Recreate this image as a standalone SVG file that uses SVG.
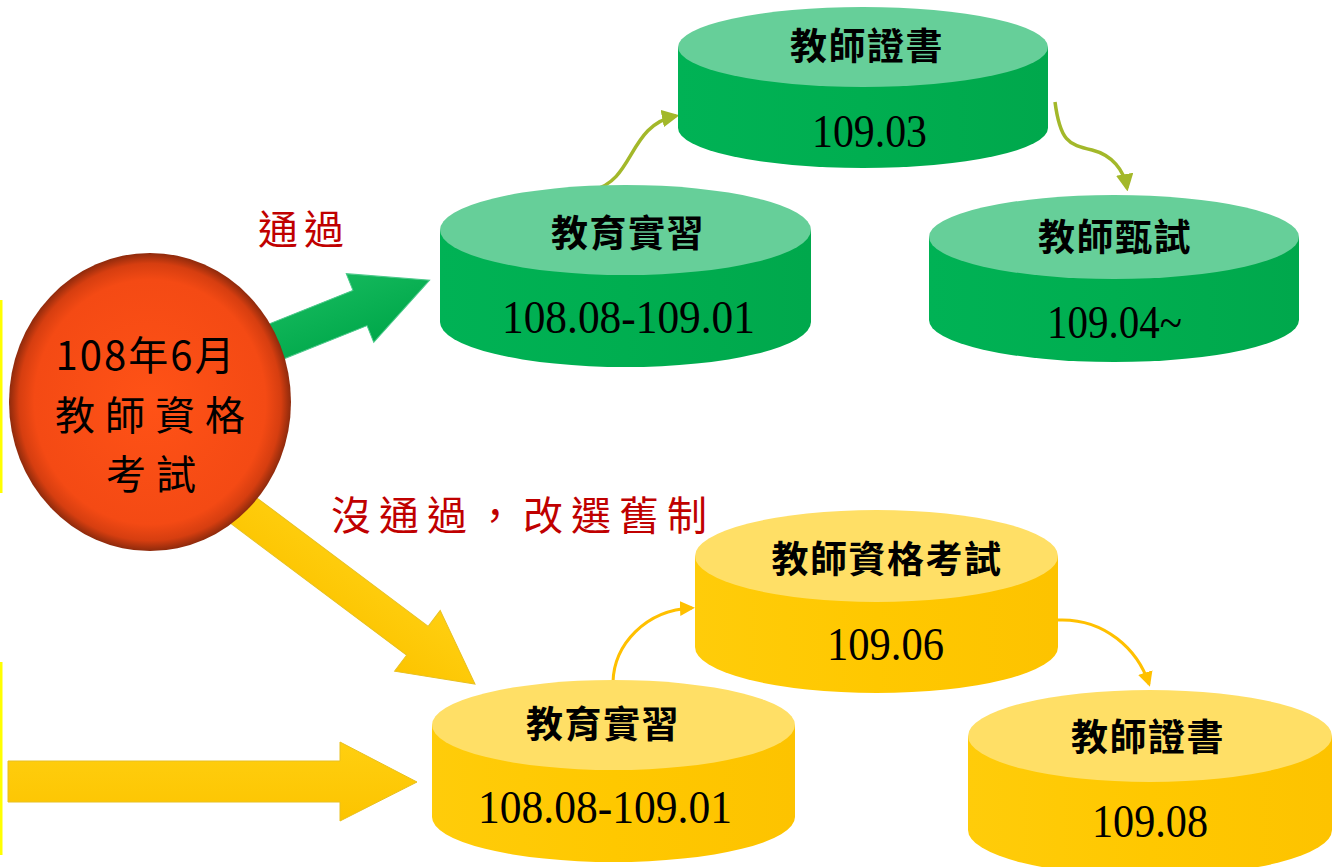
<svg xmlns="http://www.w3.org/2000/svg" width="1333" height="867" viewBox="0 0 1333 867">
<defs>
<linearGradient id="gSide" x1="0" y1="0" x2="1" y2="0">
<stop offset="0" stop-color="#00B255"/><stop offset="0.5" stop-color="#00AE50"/><stop offset="1" stop-color="#00A84C"/>
</linearGradient>
<linearGradient id="ySide" x1="0" y1="0" x2="1" y2="0">
<stop offset="0" stop-color="#FFCC0A"/><stop offset="0.5" stop-color="#FFC800"/><stop offset="1" stop-color="#FDC300"/>
</linearGradient>
<radialGradient id="redBall" cx="0.5" cy="0.5" r="0.5">
<stop offset="0" stop-color="#FF5216"/><stop offset="0.82" stop-color="#F44A14"/><stop offset="0.93" stop-color="#D63E10"/><stop offset="1" stop-color="#8E2A0C"/>
</radialGradient>
<linearGradient id="gArrow" x1="0" y1="0" x2="0" y2="1">
<stop offset="0" stop-color="#14B85C"/><stop offset="1" stop-color="#00A84A"/>
</linearGradient>
<linearGradient id="yArrow" x1="0" y1="0" x2="0" y2="1">
<stop offset="0" stop-color="#FFCF10"/><stop offset="1" stop-color="#FCC400"/>
</linearGradient>
<marker id="mG" viewBox="0 0 10 10" refX="8" refY="5" markerWidth="5" markerHeight="5" orient="auto" markerUnits="strokeWidth">
<path d="M0,0 L10,5 L0,10 Z" fill="#A3B82A"/>
</marker>
<marker id="mY" viewBox="0 0 10 10" refX="8" refY="5" markerWidth="5" markerHeight="5" orient="auto" markerUnits="strokeWidth">
<path d="M0,0 L10,5 L0,10 Z" fill="#FFC000"/>
</marker>
</defs>
<style>
.gtop{fill:#66CF99}
.gside{fill:url(#gSide)}
.ytop{fill:#FFDF66}
.yside{fill:url(#ySide)}
.lbl{font-family:"Noto Sans CJK TC","Noto Sans CJK SC",sans-serif;font-weight:bold;font-size:37px;fill:#000;letter-spacing:1.5px}
.num{font-family:"Liberation Serif","Noto Sans CJK TC",serif;font-size:46px;fill:#000}
.red{font-family:"Noto Sans CJK TC",sans-serif;font-size:40px;fill:#C00000}
.ball{font-family:"Noto Sans CJK TC",sans-serif;font-size:40px;fill:#000}
.gc{fill:none;stroke:#A3B82A;stroke-width:3.5;marker-end:url(#mG)}
.yc{fill:none;stroke:#FFC000;stroke-width:3;marker-end:url(#mY)}
</style>
<rect width="1333" height="867" fill="#FFFFFF"/>

<g id="edge-marks">
<rect x="0" y="300" width="2.5" height="193" fill="#FFFF00"/>
<rect x="0" y="662" width="2.5" height="193" fill="#FFFF00"/>
</g>

<g id="connectors">
<polygon fill="url(#gArrow)" stroke="#4CC98A" stroke-width="1" transform="translate(230,360) rotate(-21.8)" points="0,-19 140,-19 140,-37 215,0 140,37 140,19 0,19"/>
<polygon fill="url(#yArrow)" stroke="#E8C020" stroke-width="1" transform="translate(203,480) rotate(36.87)" points="0,-18 268,-18 268,-38 340,0 268,38 268,18 0,18"/>
<polygon fill="url(#yArrow)" stroke="#E8C020" stroke-width="1" points="8,761 340,761 340,742 417,782 340,821 340,802 8,802"/>
<path class="gc" d="M593,190 C635,180 628,125 676,116"/>
<path class="gc" d="M1055,102 C1060,140 1068,145 1092,150 C1112,155 1124,170 1127,188"/>
<path class="yc" d="M613,682 C614,645 645,610 692,608"/>
<path class="yc" d="M1058,620 C1105,618 1138,650 1149,684"/>
</g>

<g id="exam-2019">
<ellipse cx="150" cy="402" rx="141" ry="149" fill="url(#redBall)"/>
<text class="ball" x="146" y="370" text-anchor="middle" font-family="Liberation Serif, Noto Sans CJK TC, serif" font-size="42" letter-spacing="2">108年6月</text>
<text class="ball" x="155" y="430" text-anchor="middle" letter-spacing="10">教師資格</text>
<text class="ball" x="156" y="489" text-anchor="middle" letter-spacing="10">考試</text>
</g>

<g id="label-pass">
<text class="red" x="258" y="244" letter-spacing="6">通過</text>
</g>
<g id="label-fail">
<text class="red" x="331" y="530" letter-spacing="8">沒通過，改選舊制</text>
</g>

<g id="green-internship">
<path class="gside" d="M440,230 L440,322 A185.5,45 0 0 0 811,322 L811,230 Z"/>
<ellipse class="gtop" cx="625.5" cy="230" rx="185.5" ry="45"/>
<text class="lbl" x="628" y="247" text-anchor="middle">教育實習</text>
<text class="num" x="502" y="333" textLength="253" lengthAdjust="spacingAndGlyphs">108.08-109.01</text>
</g>

<g id="green-certificate">
<path class="gside" d="M678,47 L678,128 A185,40 0 0 0 1048,128 L1048,47 Z"/>
<ellipse class="gtop" cx="863" cy="47" rx="185" ry="40"/>
<text class="lbl" x="867" y="60" text-anchor="middle">教師證書</text>
<text class="num" x="812" y="147" textLength="115" lengthAdjust="spacingAndGlyphs">109.03</text>
</g>

<g id="green-recruit">
<path class="gside" d="M929,237 L929,320 A185,42 0 0 0 1299,320 L1299,237 Z"/>
<ellipse class="gtop" cx="1114" cy="237" rx="185" ry="42"/>
<text class="lbl" x="1115" y="251" text-anchor="middle">教師甄試</text>
<text class="num" x="1047" y="338" textLength="135" lengthAdjust="spacingAndGlyphs">109.04~</text>
</g>

<g id="yellow-internship">
<path class="yside" d="M432,725 L432,817 A181.5,45 0 0 0 795,817 L795,725 Z"/>
<ellipse class="ytop" cx="613.5" cy="725" rx="181.5" ry="45"/>
<text class="lbl" x="603" y="738" text-anchor="middle">教育實習</text>
<text class="num" x="478" y="823" textLength="254" lengthAdjust="spacingAndGlyphs">108.08-109.01</text>
</g>

<g id="yellow-exam">
<path class="yside" d="M695,556 L695,647 A181.5,46 0 0 0 1058,647 L1058,556 Z"/>
<ellipse class="ytop" cx="876.5" cy="556" rx="181.5" ry="46"/>
<text class="lbl" x="887" y="573" text-anchor="middle">教師資格考試</text>
<text class="num" x="827" y="660" textLength="117" lengthAdjust="spacingAndGlyphs">109.06</text>
</g>

<g id="yellow-certificate">
<path class="yside" d="M968,736 L968,830 A182,46 0 0 0 1332,830 L1332,736 Z"/>
<ellipse class="ytop" cx="1150" cy="736" rx="182" ry="46"/>
<text class="lbl" x="1148" y="751" text-anchor="middle">教師證書</text>
<text class="num" x="1092" y="837" textLength="116" lengthAdjust="spacingAndGlyphs">109.08</text>
</g>
</svg>
